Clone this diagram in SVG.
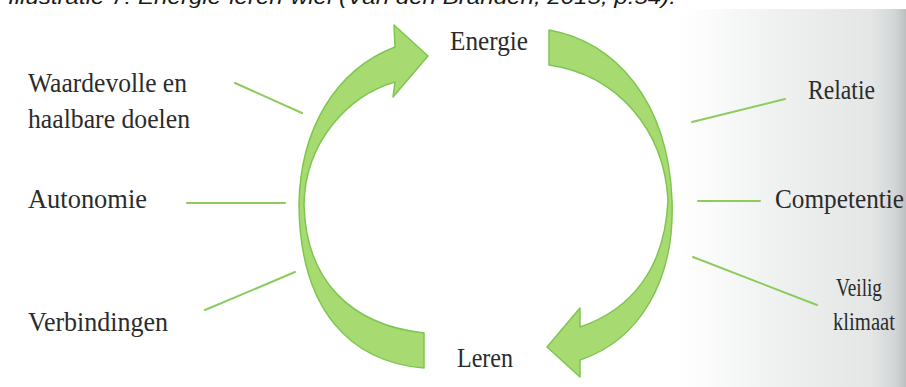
<svg xmlns="http://www.w3.org/2000/svg" width="906" height="387" viewBox="0 0 906 387">
  <defs>
    <linearGradient id="page" x1="680" y1="0" x2="906" y2="0" gradientUnits="userSpaceOnUse">
      <stop offset="0" stop-color="#ffffff"/>
      <stop offset="0.35" stop-color="#f2f4f3"/>
      <stop offset="0.85" stop-color="#e3e6e5"/>
      <stop offset="0.95" stop-color="#d3d6d6"/>
      <stop offset="1" stop-color="#bcc0c0"/>
    </linearGradient>
    <style>
      .lbl { font-family: "Liberation Serif", "DejaVu Serif", serif; fill: #2b2b2b; font-size: 27px; }
      .sm { font-size: 26px; }
      .cap { font-family: "Liberation Sans", Arial, sans-serif; font-style: italic; fill: #1a1a1a; }
      .arrow { fill: #a7db72; stroke: #7fc651; stroke-width: 1.5; stroke-linejoin: round; }
      .tick { stroke: #8ccb5c; stroke-width: 2; fill: none; stroke-linecap: round; }
    </style>
  </defs>

  <rect x="0" y="0" width="906" height="387" fill="#ffffff"/>
  <rect x="680" y="9" width="226" height="378" fill="url(#page)"/>

  <text class="cap" x="8" y="4" font-size="20" textLength="668" lengthAdjust="spacingAndGlyphs">Illustratie 7: Energie-leren-wiel (Van den Branden, 2015, p.54).</text>

  <g id="connectors">
    <path id="arrow-leren-energie" class="arrow" d="M424,368 C350,362 300,310 299,205 C300,130 335,70 395,47 L394,25 L428,56 L393,97 L395,82 C350,95 305,140 304,205 C306,280 350,325 424,333 Z"/>
    <path id="arrow-energie-leren" class="arrow" d="M549,30 C615,42 668,100 672,200 C675,280 640,340 580,360 L580,377 L547,347 L580,308 L580,327 C630,310 665,270 668,200 C664,130 618,75 549,65 Z"/>
    <line class="tick" x1="235" y1="83" x2="302" y2="113"/>
    <line class="tick" x1="187" y1="203" x2="285" y2="203"/>
    <line class="tick" x1="205" y1="310" x2="295" y2="272"/>
    <line class="tick" x1="692" y1="122" x2="785" y2="99"/>
    <line class="tick" x1="698" y1="201" x2="760" y2="201"/>
    <line class="tick" x1="693" y1="257" x2="817" y2="305"/>
  </g>

  <g id="energie"><text class="lbl" x="450" y="50" textLength="78" lengthAdjust="spacingAndGlyphs">Energie</text></g>
  <g id="leren"><text class="lbl" x="457" y="367" textLength="56" lengthAdjust="spacingAndGlyphs">Leren</text></g>
  <g id="doelen">
    <text class="lbl" x="28" y="92" textLength="159" lengthAdjust="spacingAndGlyphs">Waardevolle en</text>
    <text class="lbl" x="28" y="128" textLength="162" lengthAdjust="spacingAndGlyphs">haalbare doelen</text>
  </g>
  <g id="autonomie"><text class="lbl" x="28" y="208" textLength="119" lengthAdjust="spacingAndGlyphs">Autonomie</text></g>
  <g id="verbindingen"><text class="lbl" x="28" y="331" textLength="140" lengthAdjust="spacingAndGlyphs">Verbindingen</text></g>
  <g id="relatie"><text class="lbl" x="808" y="99" textLength="67" lengthAdjust="spacingAndGlyphs">Relatie</text></g>
  <g id="competentie"><text class="lbl" x="775" y="208" textLength="129" lengthAdjust="spacingAndGlyphs">Competentie</text></g>
  <g id="veilig-klimaat">
    <text class="lbl sm" x="836" y="296" textLength="46" lengthAdjust="spacingAndGlyphs">Veilig</text>
    <text class="lbl sm" x="833" y="330" textLength="62" lengthAdjust="spacingAndGlyphs">klimaat</text>
  </g>
</svg>
